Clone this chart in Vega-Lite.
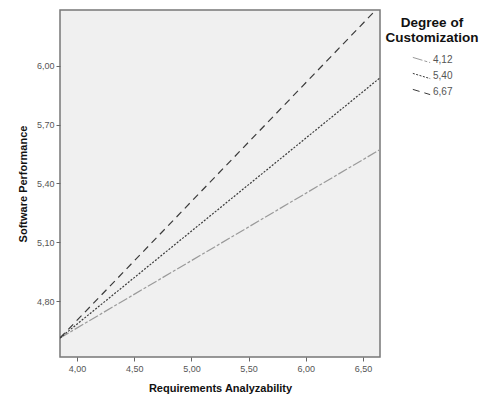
{
  "$schema": "https://vega.github.io/schema/vega-lite/v6.json",
  "autosize": {"type": "none"},
  "padding": {"left": 60, "top": 10, "right": 118, "bottom": 48},
  "width": 320,
  "height": 347,
  "background": "white",
  "config": {
    "view": {"fill": "#f0f0f0", "stroke": "#777777", "strokeWidth": 1.5},
    "font": "Liberation Sans"
  },
  "data": {
    "values": [
      {"ra": 3.851, "sp": 4.612, "doc": "4,12"},
      {"ra": 6.649, "sp": 5.573, "doc": "4,12"},
      {"ra": 3.851, "sp": 4.612, "doc": "5,40"},
      {"ra": 6.649, "sp": 5.939, "doc": "5,40"},
      {"ra": 3.851, "sp": 4.612, "doc": "6,67"},
      {"ra": 6.596, "sp": 6.275, "doc": "6,67"}
    ]
  },
  "mark": {"type": "line", "strokeWidth": 1.2, "clip": true},
  "encoding": {
    "x": {
      "field": "ra", "type": "quantitative",
      "scale": {"domain": [3.851, 6.649], "nice": false, "zero": false},
      "axis": {
        "title": "Requirements Analyzability",
        "values": [4, 4.5, 5, 5.5, 6, 6.5],
        "labelExpr": "replace(format(datum.value, '.2f'), '.', ',')",
        "grid": false, "domain": false,
        "tickColor": "#666666", "tickSize": 4,
        "labelFontSize": 9, "labelColor": "#555555", "labelPadding": 3,
        "titleFontSize": 11, "titleFontWeight": "bold", "titleColor": "#111111", "titlePadding": 9
      }
    },
    "y": {
      "field": "sp", "type": "quantitative",
      "scale": {"domain": [4.515, 6.285], "nice": false, "zero": false},
      "axis": {
        "title": "Software Performance",
        "values": [4.8, 5.1, 5.4, 5.7, 6.0],
        "labelExpr": "replace(format(datum.value, '.2f'), '.', ',')",
        "grid": false, "domain": false,
        "tickColor": "#666666", "tickSize": 4,
        "labelFontSize": 9, "labelColor": "#555555", "labelPadding": 2,
        "titleFontSize": 11, "titleFontWeight": "bold", "titleColor": "#111111", "titlePadding": 8
      }
    },
    "color": {
      "field": "doc", "type": "nominal",
      "scale": {"domain": ["4,12", "5,40", "6,67"], "range": ["#9a9a9a", "#3a3a3a", "#3a3a3a"]},
      "legend": {
        "title": ["Degree of", "Customization"],
        "orient": "none", "legendX": 326, "legendY": 6,
        "titleFontSize": 13.5, "titleFontWeight": "bold", "titleColor": "#111111",
        "titleAnchor": "middle", "titleAlign": "center", "titleLineHeight": 15, "titlePadding": 6,
        "symbolType": "M-1,-0.3L1,0.3", "symbolSize": 300, "symbolStrokeWidth": 1,
        "labelFontSize": 10, "labelColor": "#555555", "labelOffset": 2,
        "rowPadding": 1
      }
    },
    "strokeDash": {
      "field": "doc", "type": "nominal",
      "scale": {"domain": ["4,12", "5,40", "6,67"], "range": [[10, 2, 3, 2], [2, 1.5], [7, 5]]},
      "legend": null
    }
  }
}
